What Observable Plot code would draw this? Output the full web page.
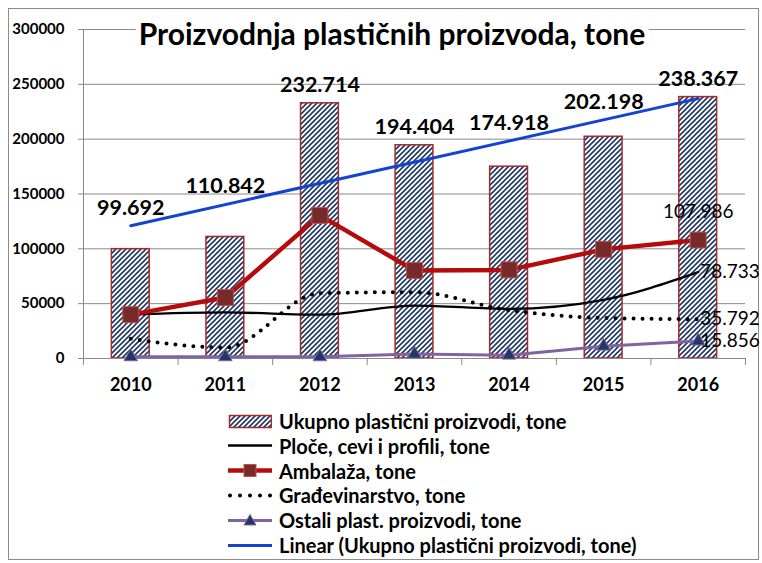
<!DOCTYPE html>
<html><head><meta charset="utf-8">
<script src="https://cdn.jsdelivr.net/npm/d3@7"></script>
<script src="https://cdn.jsdelivr.net/npm/@observablehq/plot@0.6"></script>
<style>
body{margin:0;background:#fff;font-family:Lato,"Open Sans",sans-serif;}
#wrap{position:relative;width:762px;height:563px;overflow:hidden;background:#fff;}
#border{position:absolute;left:8px;top:8px;width:751px;height:552px;border:1px solid #8c8c8c;box-sizing:border-box;}
#chart{position:absolute;left:0;top:0;}
#title{position:absolute;top:18px;left:392px;transform:translateX(-50%);white-space:nowrap;font-size:30px;line-height:30px;font-weight:bold;background:#fff;padding:0 3px;color:#000;}
.lg{position:absolute;left:228px;height:20px;display:flex;align-items:center;font-size:20px;font-weight:bold;white-space:nowrap;color:#000;}
.lg svg{margin-right:7px;flex:none;}
</style></head>
<body>
<div id="wrap">
  <div id="border"></div>
  <div id="chart"></div>
  <div id="title">Proizvodnja plastičnih proizvoda, tone</div>
  <div id="legend"></div>
</div>
<script>
const years = [2010, 2011, 2012, 2013, 2014, 2015, 2016];
const ukupno = [99692, 110842, 232714, 194404, 174918, 202198, 238367];
const ploce = [40000, 42000, 40000, 48300, 45300, 53500, 78733];
const ambalaza = [40000, 55600, 130500, 80200, 80800, 99500, 107986];
const gradjevinarstvo = [18000, 10000, 59500, 60500, 44000, 37000, 35792];
const ostali = [1500, 1500, 1500, 4000, 3000, 11200, 15856];
const yTicks = [0, 50000, 100000, 150000, 200000, 250000, 300000];
const seriesNames = [
  "Ukupno plastični proizvodi, tone",
  "Ploče, cevi i profili, tone",
  "Ambalaža, tone",
  "Građevinarstvo, tone",
  "Ostali plast. proizvodi, tone",
  "Linear (Ukupno plastični proizvodi, tone)"
];

const data = years.map((year, i) => ({year, total: ukupno[i], ploce: ploce[i], ambalaza: ambalaza[i], grad: gradjevinarstvo[i], ostali: ostali[i]}));

// least-squares linear trend of the totals (as Excel's "Linear" trendline)
const n = years.length;
const mx = d3.mean(years), my = d3.mean(ukupno);
const slope = d3.sum(years, (x, i) => (x - mx) * (ukupno[i] - my)) / d3.sum(years, x => (x - mx) ** 2);
const trend = x => my + slope * (x - mx);
const trendData = [years[0], years[n - 1]].map(x => ({year: x, value: trend(x)}));

const fmt = v => d3.format(",")(Math.round(v)).replace(/,/g, ".");
const last = data[n - 1];
const boundaries = d3.range(years[0] - 0.5, years[n - 1] + 1, 1);

const RED = "#b40c0c", MARK = "#772a2a", MARKS = "#c0504d", PURPLE = "#8064a2", NAVY = "#1f3864", BLUE = "#1443d4", GRID = "#8a8a8a", BARSTROKE = "#a52a2a";

const chart = Plot.plot({
  width: 762, height: 400,
  marginLeft: 83, marginRight: 17, marginTop: 29, marginBottom: 42,
  style: {fontFamily: "Lato, 'Open Sans', sans-serif", background: "transparent", overflow: "visible"},
  x: {domain: [years[0] - 0.5, years[n - 1] + 0.5], label: null},
  y: {domain: [0, 300000], label: null},
  marks: [
    Plot.gridY(yTicks, {stroke: GRID, strokeOpacity: 1}),
    Plot.axisY({ticks: yTicks, label: null, tickSize: 5, tickPadding: 14, tickFormat: d => String(d), fontSize: 15, fontWeight: "bold", stroke: GRID, fill: "#000"}),
    Plot.axisX({ticks: boundaries, label: null, tickSize: 7, tickFormat: () => "", stroke: GRID}),
    Plot.axisX({ticks: years, label: null, tickSize: 0, tickPadding: 20, tickFormat: d => String(d), fontSize: 18, fontWeight: "bold", fill: "#000"}),
    Plot.rectY(data, {x1: d => d.year - 0.2, x2: d => d.year + 0.2, y1: 0, y2: "total", fill: "url(#hatch)", stroke: BARSTROKE, strokeWidth: 1.5}),
    Plot.ruleX([boundaries[0]], {stroke: GRID}),
    Plot.ruleY([0], {stroke: GRID}),
    Plot.line(data, {x: "year", y: "grad", curve: "monotone-x", stroke: "#000", strokeWidth: 4, strokeDasharray: "0 9", strokeLinecap: "round"}),
    Plot.line(data, {x: "year", y: "ploce", curve: "monotone-x", stroke: "#000", strokeWidth: 2.3}),
    Plot.line(data, {x: "year", y: "ostali", stroke: PURPLE, strokeWidth: 3}),
    Plot.dot(data, {x: "year", y: "ostali", symbol: "triangle", r: 5, fill: NAVY, stroke: PURPLE, strokeWidth: 1}),
    Plot.line(data, {x: "year", y: "ambalaza", stroke: RED, strokeWidth: 4.5}),
    Plot.dot(data, {x: "year", y: "ambalaza", symbol: "square", r: 9, fill: MARK, stroke: MARKS, strokeWidth: 1}),
    Plot.line(trendData, {x: "year", y: "value", stroke: BLUE, strokeWidth: 3}),
    Plot.text(data, {x: "year", y: d => Math.max(d.total, trend(d.year)), dy: -18, text: d => fmt(d.total), fontSize: 21.5, fontWeight: "bold", fill: "#000"}),
    Plot.text([last], {x: "year", y: "ambalaza", dy: -28, text: d => fmt(d.ambalaza), fontSize: 19, fill: "#000"}),
    Plot.text([last], {x: "year", y: "ploce", dx: 2, textAnchor: "start", text: d => fmt(d.ploce), fontSize: 19, fill: "#000"}),
    Plot.text([last], {x: "year", y: "grad", dx: 2, textAnchor: "start", text: d => fmt(d.grad), fontSize: 19, fill: "#000"}),
    Plot.text([last], {x: "year", y: "ostali", dx: 2, textAnchor: "start", text: d => fmt(d.ostali), fontSize: 19, fill: "#000"})
  ]
});
const ns = "http://www.w3.org/2000/svg";
const defs = document.createElementNS(ns, "defs");
defs.innerHTML = `<pattern id="hatch" patternUnits="userSpaceOnUse" width="5" height="5"><rect width="5" height="5" fill="#fff"/><path d="M-1,1 l2,-2 M0,5 l5,-5 M4,6 l2,-2" stroke="${NAVY}" stroke-width="1.6"/></pattern>`;
chart.prepend(defs);
document.getElementById("chart").appendChild(chart);

// legend
const swatches = [
  `<rect x="1.5" y="2.5" width="42" height="12" fill="url(#hatch)" stroke="${BARSTROKE}" stroke-width="1.5"/>`,
  `<line x1="0" x2="44" y1="8.5" y2="8.5" stroke="#000" stroke-width="2.5"/>`,
  `<line x1="0" x2="44" y1="8.5" y2="8.5" stroke="${RED}" stroke-width="4.5"/><rect x="16" y="2.5" width="12" height="12" fill="${MARK}" stroke="${MARKS}"/>`,
  `<line x1="2" x2="44" y1="8.5" y2="8.5" stroke="#000" stroke-width="4" stroke-dasharray="0 10" stroke-linecap="round"/>`,
  `<line x1="0" x2="44" y1="8.5" y2="8.5" stroke="${PURPLE}" stroke-width="3"/><path d="M22,2.5 L28,13 L16,13 Z" fill="${NAVY}" stroke="${PURPLE}"/>`,
  `<line x1="0" x2="44" y1="8.5" y2="8.5" stroke="${BLUE}" stroke-width="3"/>`
];
const legend = document.getElementById("legend");
seriesNames.forEach((name, i) => {
  const row = document.createElement("div");
  row.className = "lg";
  row.style.top = (411 + 24.8 * i) + "px";
  row.innerHTML = `<svg width="44" height="17">${swatches[i]}</svg><span></span>`;
  row.querySelector("span").textContent = name;
  legend.appendChild(row);
});
</script>
</body></html>
